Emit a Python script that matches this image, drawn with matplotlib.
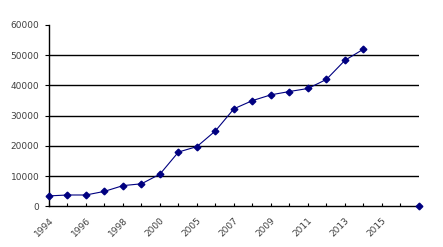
import numpy as np
import matplotlib

matplotlib.use("Agg")

import matplotlib.pyplot as plt

categories = ["1994", "1995", "1996", "1997", "1998", "1999", "2000", "2004",
              "2005", "2006", "2007", "2008", "2009", "2010", "2011", "2012",
              "2013", "2014", "2015", "2016", ""]
values = [3500, 3800, 3800, 5000, 6900, 7500, 10700, 18000, 19800, 25000,
          32300, 35000, 36900, 38000, 39000, 42000, 48300, 52000,
          np.nan, np.nan, 0]
y_ticks = [0, 10000, 20000, 30000, 40000, 50000, 60000]

NAVY = "#000080"
TXT = "#404040"

fig = plt.figure(figsize=(4.43, 2.47), dpi=100)
ax = fig.add_axes([0.1106, 0.164, 0.835, 0.735])

x = np.arange(len(categories))
ax.plot(x, values, color=NAVY, linewidth=0.8, marker="D", markersize=3.4,
        markerfacecolor=NAVY, markeredgecolor=NAVY, clip_on=False, zorder=5)

for yv in y_ticks[1:-1]:
    ax.axhline(yv, color="black", linewidth=1.0, zorder=1)

ax.set_xlim(0, len(categories) - 1)
ax.set_ylim(0, 60000)
ax.set_yticks(y_ticks)
ax.set_yticklabels([str(v) for v in y_ticks], fontsize=6.5, color=TXT,
                   family="DejaVu Sans")
ax.set_xticks(x)
ax.set_xticklabels([c if i % 2 == 0 else "" for i, c in enumerate(categories)],
                   rotation=45, ha="right", va="top", rotation_mode="anchor",
                   fontsize=6.5, color=TXT)

ax.tick_params(axis="y", direction="out", length=3, width=0.8, pad=4)
ax.tick_params(axis="x", direction="in", length=2.5, width=0.8, pad=7)

for s in ["top", "right"]:
    ax.spines[s].set_visible(False)
for s in ["left", "bottom"]:
    ax.spines[s].set_color("black")
    ax.spines[s].set_linewidth(1.0)

fig.savefig("out.png", dpi=100)
plt.close(fig)
